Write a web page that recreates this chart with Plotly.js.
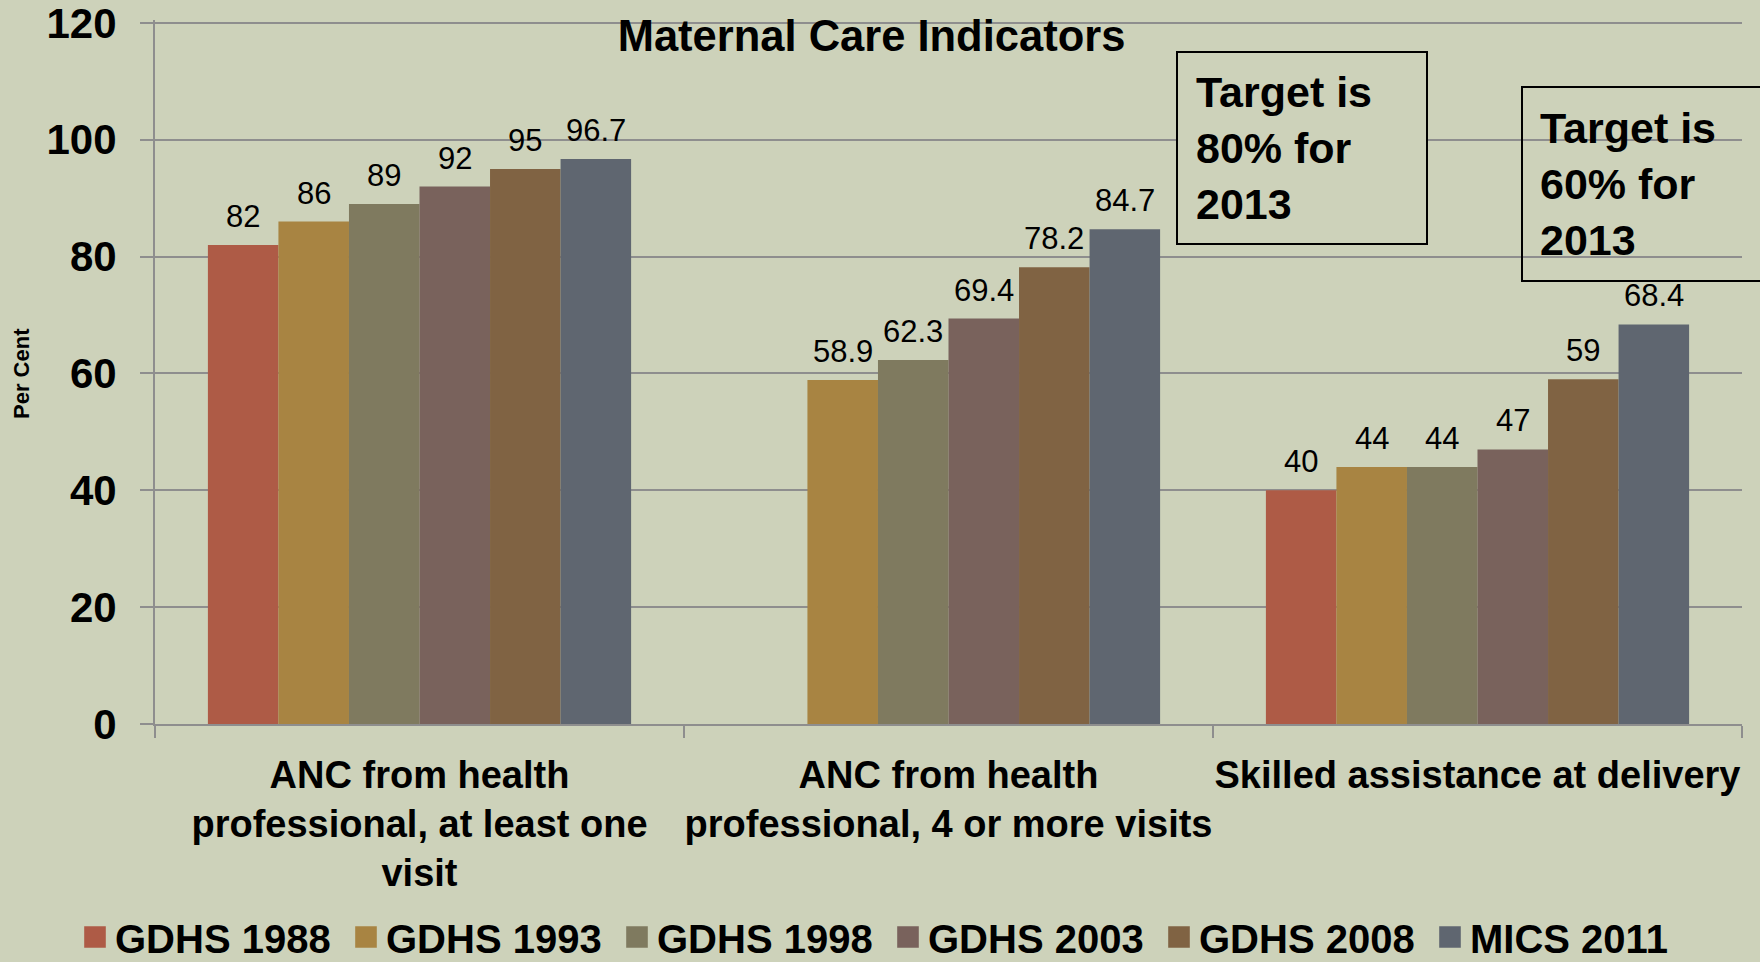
<!DOCTYPE html>
<html>
<head>
<meta charset="utf-8">
<script src="https://cdn.plot.ly/plotly-3.0.1.min.js"></script>
<style>
  html, body { margin: 0; padding: 0; background: #CDD2BA; }
  #chart { width: 1760px; height: 962px; }
</style>
</head>
<body>
<div id="chart"></div>
<script>
// ---- data ----
const categories = [
  "ANC from health<br>professional, at least one<br>visit",
  "ANC from health<br>professional, 4 or more visits",
  "Skilled assistance at delivery"
];
const seriesNames = ["GDHS 1988", "GDHS 1993", "GDHS 1998", "GDHS 2003", "GDHS 2008", "MICS 2011"];
const gdhs1988 = [82, null, 40];
const gdhs1993 = [86, 58.9, 44];
const gdhs1998 = [89, 62.3, 44];
const gdhs2003 = [92, 69.4, 47];
const gdhs2008 = [95, 78.2, 59];
const mics2011 = [96.7, 84.7, 68.4];
const seriesColors = ["#AE5B46", "#A88442", "#7F7A5F", "#79625C", "#806343", "#5F6670"];
const yTicks = [0, 20, 40, 60, 80, 100, 120];

const allSeries = [gdhs1988, gdhs1993, gdhs1998, gdhs2003, gdhs2008, mics2011];
const FONT = "Liberation Sans, Arial, sans-serif";
const BG = "#CDD2BA";
const GRID = "#8E8E8E";

const W = 1760, H = 962;
const YMAX = 120.5;
const L = 155, R = 18, T = 20, B = 238;
const pw = W - L - R, ph = H - T - B;
const px = v => (v - L) / pw;
const py = v => (H - B - v) / ph;
const BARGAP = 0.2;
const nSeries = allSeries.length;
const barPx = (pw / categories.length) * (1 - BARGAP) / nSeries;

const traces = allSeries.map((vals, i) => ({
  type: "bar",
  name: seriesNames[i],
  x: categories,
  y: vals,
  marker: { color: seriesColors[i], line: { width: 0 } },
  hoverinfo: "skip"
}));

// value labels placed on the bars through the axes (category + value)
const valueLabels = [];
allSeries.forEach((vals, i) => {
  vals.forEach((v, j) => {
    if (v === null) return;
    valueLabels.push({
      xref: "x", yref: "y", x: categories[j], y: v,
      xshift: (i - (nSeries - 1) / 2) * barPx,
      yshift: 9,
      xanchor: "center", yanchor: "bottom", showarrow: false,
      text: String(v),
      font: { family: FONT, size: 31, color: "#000" }
    });
  });
});

const layout = {
  width: W, height: H,
  paper_bgcolor: BG, plot_bgcolor: BG,
  margin: { l: L, r: R, t: T, b: B, pad: 0, autoexpand: false },
  barmode: "group",
  bargap: BARGAP,
  bargroupgap: 0,
  showlegend: true,
  title: {
    text: "<b>Maternal Care Indicators</b>",
    font: { family: FONT, size: 43.5, color: "#000" },
    xref: "container", yref: "container",
    x: 871.5 / W, y: 1 - 36 / H, xanchor: "center", yanchor: "middle"
  },
  xaxis: {
    type: "category",
    tickangle: 0,
    showline: true, linecolor: GRID, linewidth: 2,
    ticks: "outside", tickson: "boundaries", ticklen: 12, tickcolor: GRID, tickwidth: 2,
    tickfont: { family: FONT, size: 38, color: "#000", weight: "bold" },
    ticklabelstandoff: 16,
    showgrid: false, zeroline: false,
    automargin: false
  },
  yaxis: {
    range: [0, YMAX],
    tickvals: yTicks,
    showline: true, linecolor: GRID, linewidth: 2,
    ticks: "outside", ticklen: 13, tickcolor: GRID, tickwidth: 2,
    tickfont: { family: FONT, size: 42, color: "#000", weight: "bold" },
    ticklabelstandoff: 15,
    ticklabeloverflow: "allow",
    showgrid: true, gridcolor: GRID, gridwidth: 2,
    zeroline: false,
    automargin: false
  },
  legend: {
    orientation: "h",
    x: px(75), y: py(937), xanchor: "left", yanchor: "middle",
    font: { family: FONT, size: 40, color: "#000", weight: "bold" },
    bgcolor: "rgba(0,0,0,0)",
    entrywidth: 226, entrywidthmode: "pixels",
    traceorder: "normal",
    itemclick: false, itemdoubleclick: false
  },
  shapes: [
    {
      type: "rect", xref: "paper", yref: "paper", layer: "above",
      x0: px(1177), x1: px(1427), y0: py(244), y1: py(52),
      line: { color: "#000", width: 2 }, fillcolor: BG
    },
    {
      type: "rect", xref: "paper", yref: "paper", layer: "above",
      x0: px(1522), x1: px(1790), y0: py(281), y1: py(87),
      line: { color: "#000", width: 2 }, fillcolor: "rgba(0,0,0,0)"
    }
  ],
  annotations: [
    {
      xref: "paper", yref: "paper", x: px(21), y: py(374),
      xanchor: "center", yanchor: "middle", showarrow: false, textangle: -90,
      text: "<b>Per Cent</b>",
      font: { family: FONT, size: 22, color: "#000" }
    },
    {
      xref: "paper", yref: "paper", x: px(1194), y: py(148),
      xanchor: "left", yanchor: "middle", align: "left", showarrow: false,
      text: "<b>Target is<br>80% for<br>2013</b>",
      font: { family: FONT, size: 43, color: "#000" }
    },
    {
      xref: "paper", yref: "paper", x: px(1538), y: py(184),
      xanchor: "left", yanchor: "middle", align: "left", showarrow: false,
      text: "<b>Target is<br>60% for<br>2013</b>",
      font: { family: FONT, size: 43, color: "#000" }
    }
  ].concat(valueLabels)
};

Plotly.newPlot("chart", traces, layout, { displayModeBar: false, staticPlot: true }).then(gd => {
  gd.querySelectorAll(".legend .legendpoints path").forEach(p => {
    const t = p.getAttribute("transform") || "";
    p.setAttribute("transform", t + " scale(1.8)");
  });
});
</script>
</body>
</html>
